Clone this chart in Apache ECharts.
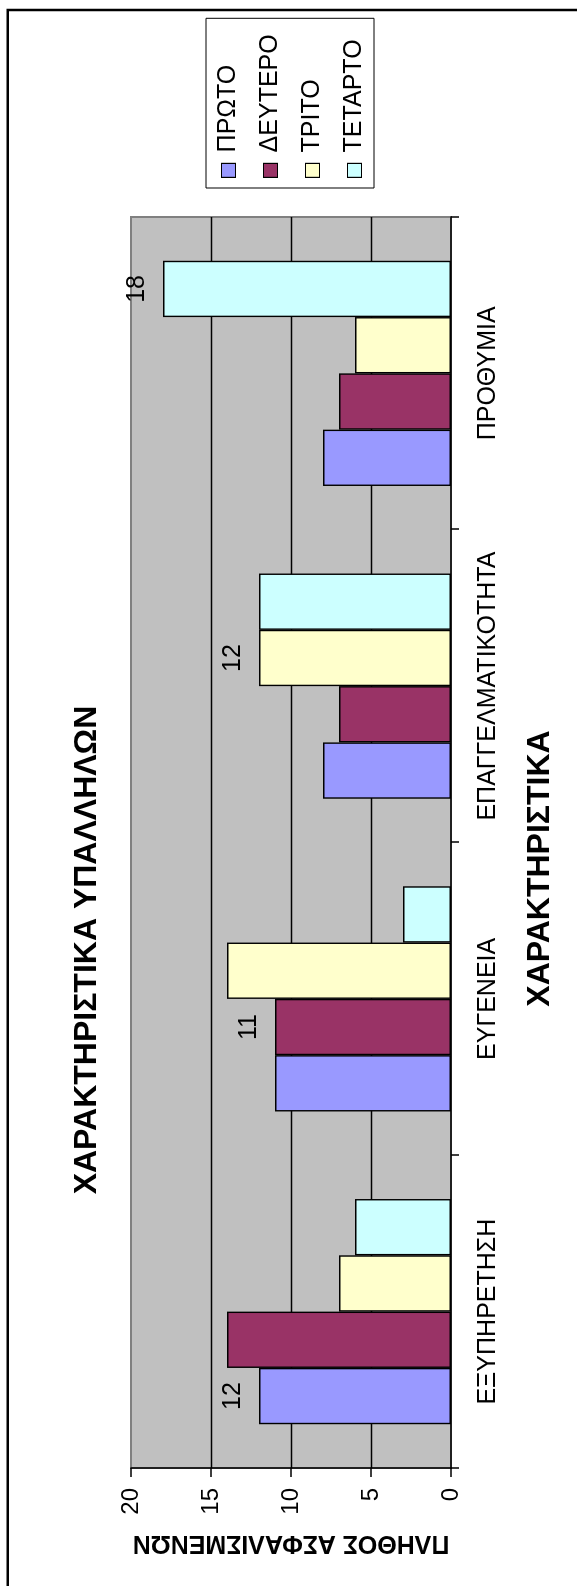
<!DOCTYPE html>
<html>
<head>
<meta charset="utf-8">
<style>
  html, body { margin: 0; padding: 0; background: #fff; overflow: hidden; }
  #page { position: relative; width: 577px; height: 1586px; overflow: hidden; }
  /* the chart is laid out as a normal column chart and turned a quarter turn to the left */
  #chart {
    position: absolute; left: 0; top: 0;
    width: 1586px; height: 577px;
    transform-origin: 0 0;
    transform: translateY(1586px) rotate(-90deg);
  }
</style>
<script src="https://cdn.jsdelivr.net/npm/echarts@6/dist/echarts.min.js"></script>
</head>
<body>
<div id="page"><div id="chart"></div></div>
<script>
// ---- data ----
const categories = ['ΕΞΥΠΗΡΕΤΗΣΗ', 'ΕΥΓΕΝΕΙΑ', 'ΕΠΑΓΓΕΛΜΑΤΙΚΟΤΗΤΑ', 'ΠΡΟΘΥΜΙΑ'];
const seriesNames = ['ΠΡΩΤΟ', 'ΔΕΥΤΕΡΟ', 'ΤΡΙΤΟ', 'ΤΕΤΑΡΤΟ'];
const proto   = [12, 11, 8, 8];
const deftero = [14, 11, 7, 7];
const trito   = [7, 14, 12, 6];
const tetarto = [6, 3, 12, 18];
const valueTicks = [0, 5, 10, 15, 20];
// bars that carry a value label: [series index, category index]
const labelledBars = [[0, 0], [1, 1], [2, 2], [3, 3]];

const titleText = 'ΧΑΡΑΚΤΗΡΙΣΤΙΚΑ ΥΠΑΛΛΗΛΩΝ';
const xTitle = 'ΧΑΡΑΚΤΗΡΙΣΤΙΚΑ';
const yTitle = 'ΠΛΗΘΟΣ ΑΣΦΑΛΙΣΜΕΝΩΝ';

// ---- styling ----
const FONT = '"Liberation Sans", Arial, sans-serif';
const colors = ['#9999FF', '#993366', '#FFFFCC', '#CCFFFF'];
const seriesValues = [proto, deftero, trito, tetarto];

function barData(si) {
  return seriesValues[si].map((v, ci) => {
    const labelled = labelledBars.some(p => p[0] === si && p[1] === ci);
    return labelled ? { value: v, label: { show: true } } : { value: v };
  });
}

const chart = echarts.init(document.getElementById('chart'), null, { renderer: 'canvas' });

chart.setOption({
  animation: false,
  color: colors,
  title: {
    text: titleText,
    left: 636,
    top: 71,
    padding: 0,
    textAlign: 'center',
    textStyle: { fontFamily: FONT, fontSize: 32, fontWeight: 'bold', color: '#000' }
  },
  legend: {
    orient: 'vertical',
    left: 1398,
    top: 206,
    padding: [10, 16, 7, 10],
    itemWidth: 14,
    itemHeight: 14,
    itemGap: 17,
    icon: 'rect',
    borderColor: '#000',
    borderWidth: 1,
    itemStyle: { borderColor: '#000', borderWidth: 1.2 },
    textStyle: { fontFamily: FONT, fontSize: 25, color: '#000', padding: [0, 0, 0, 6] },
    data: seriesNames
  },
  grid: {
    left: 118, right: 217, top: 131, bottom: 126,
    show: true,
    backgroundColor: '#C0C0C0',
    borderColor: '#808080',
    borderWidth: 2
  },
  xAxis: {
    type: 'category',
    data: categories,
    axisLine: { show: true, lineStyle: { color: '#000', width: 1.5 } },
    axisTick: { show: true, alignWithLabel: false, inside: false, length: 8, lineStyle: { color: '#000', width: 1.5 } },
    axisLabel: { fontFamily: FONT, fontSize: 25, color: '#000', margin: 25, interval: 0 },
    splitLine: { show: false },
    name: xTitle,
    nameLocation: 'middle',
    nameGap: 73,
    nameTextStyle: { fontFamily: FONT, fontSize: 32, fontWeight: 'bold', color: '#000', padding: [0, 52, 0, 0] }
  },
  yAxis: {
    type: 'value',
    min: valueTicks[0],
    max: valueTicks[valueTicks.length - 1],
    interval: valueTicks[1] - valueTicks[0],
    axisLine: { show: true, lineStyle: { color: '#000', width: 1.5 } },
    axisTick: { show: true, inside: false, length: 9, lineStyle: { color: '#000', width: 1.5 } },
    axisLabel: { fontFamily: FONT, fontSize: 24, color: '#000', margin: 20 },
    splitLine: { show: true, showMinLine: false, showMaxLine: false, lineStyle: { color: '#000', width: 1.4 } },
    name: yTitle,
    nameLocation: 'middle',
    nameRotate: 90,
    nameGap: 62,
    nameTextStyle: { fontFamily: FONT, fontSize: 25, fontWeight: 'bold', color: '#000' }
  },
  series: seriesNames.map((name, si) => ({
    name: name,
    type: 'bar',
    barGap: '0%',
    barCategoryGap: '28%',
    itemStyle: { color: colors[si], borderColor: '#000', borderWidth: 1.4 },
    label: {
      show: false,
      position: 'top',
      distance: 13,
      formatter: '{c}',
      fontFamily: FONT,
      fontSize: 25,
      color: '#000'
    },
    emphasis: { disabled: true },
    data: barData(si)
  })),
  graphic: [{
    type: 'rect',
    silent: true,
    shape: { x: -10, y: 7.7, width: 1586, height: 600 },
    style: { fill: 'none', stroke: '#000', lineWidth: 2.5 }
  }]
});
</script>
</body>
</html>
